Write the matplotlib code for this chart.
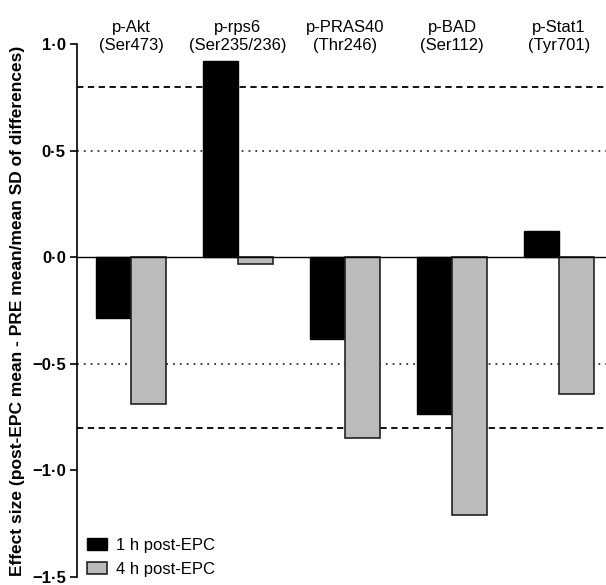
import matplotlib
matplotlib.use("Agg")
import matplotlib.pyplot as plt
import numpy as np
from matplotlib.ticker import FuncFormatter

plt.rcParams['font.family'] = ['Liberation Sans', 'DejaVu Sans']

proteins = ["p-Akt", "p-rps6", "p-PRAS40", "p-BAD", "p-Stat1"]
sites = ["(Ser473)", "(Ser235/236)", "(Thr246)", "(Ser112)", "(Tyr701)"]
h1 = [-0.285, 0.92, -0.383, -0.735, 0.125]   # 1 h post-EPC
h4 = [-0.69, -0.03, -0.85, -1.21, -0.64]    # 4 h post-EPC

fig = plt.figure(figsize=(6.06, 5.85), dpi=100)
ax = fig.add_axes([0.127, 0.0137, 0.873, 0.911])

x = np.arange(len(proteins))
w = 0.33
ax.bar(x - w / 2, h1, w, color="black", edgecolor="black", lw=1, zorder=3,
       label="1 h post-EPC")
ax.bar(x + w / 2, h4, w, color="#bbbbbb", edgecolor="#222222", lw=1.2, zorder=3,
       label="4 h post-EPC")

ax.axhline(0, color="black", lw=1, zorder=4)
for v in (0.8, -0.8):
    ax.axhline(v, color="black", lw=1.3, ls=(0, (3.5, 2.5)), zorder=1)
for v in (0.5, -0.5):
    ax.axhline(v, color="#333333", lw=1.3, ls=(0, (1, 2.8)), zorder=1)

ax.set_xlim(-0.505, 4.44)
ax.set_ylim(-1.5, 1.0)
ax.set_yticks([1.0, 0.5, 0.0, -0.5, -1.0, -1.5])
ax.yaxis.set_major_formatter(FuncFormatter(
    lambda v, p: ("\u2212" if v < 0 else "") + f"{abs(v):.1f}".replace(".", "\u00b7")))
ax.set_xticks([])
for s in ("top", "right", "bottom"):
    ax.spines[s].set_visible(False)
ax.spines["left"].set_linewidth(1.2)
ax.tick_params(axis="y", direction="out", length=5, width=1.2, labelsize=12, pad=3)
for t in ax.get_yticklabels():
    t.set_fontweight("bold")

ax.set_ylabel("Effect size (post-EPC mean - PRE mean/mean SD of differences)",
              fontsize=12.5, fontweight="bold", labelpad=5)

for xi, p, s in zip(x, proteins, sites):
    ax.text(xi, 1.036, p + "\n" + s, ha="center", va="center", fontsize=12,
            linespacing=1.3, clip_on=False)

fig.legend(loc="lower left", bbox_to_anchor=(0.144, 0.014), frameon=False,
           fontsize=12, borderpad=0, borderaxespad=0, handlelength=1.2,
           handleheight=0.78, handletextpad=0.5, labelspacing=0.55)

fig.savefig("out.png", dpi=100)
